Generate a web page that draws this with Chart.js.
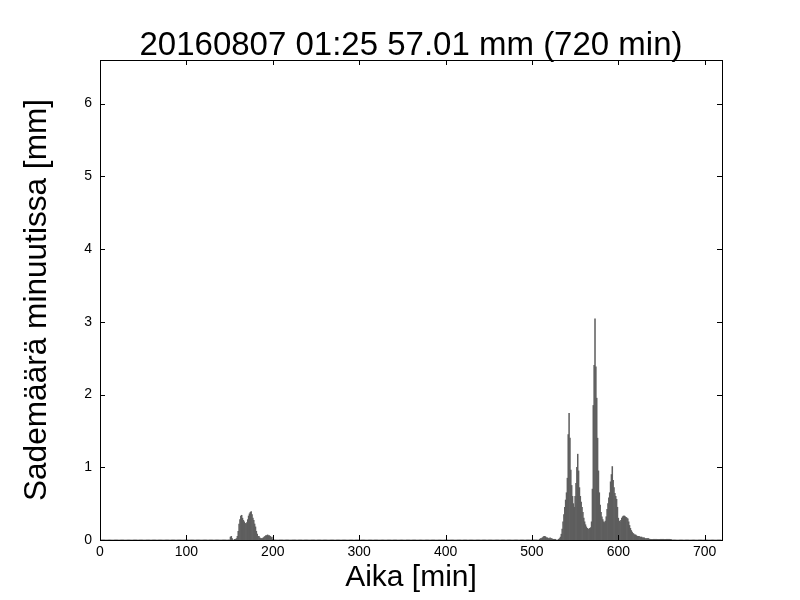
<!DOCTYPE html>
<html>
<head>
<meta charset="utf-8">
<script src="https://cdn.jsdelivr.net/npm/chart.js@4"></script>
<style>
html,body{margin:0;padding:0;background:#fff;}
#wrap{width:800px;height:600px;position:relative;}
</style>
</head>
<body>
<div id="wrap"><canvas id="c" width="800" height="600"></canvas></div>
<script>
// ---- data (mm per minute) ----
const titleText = "20160807 01:25 57.01 mm (720 min)";
const xLabel = "Aika [min]";
const yLabel = "Sademäärä minuutissa [mm]";
const totalMinutes = 720;
const xTicks = [0, 100, 200, 300, 400, 500, 600, 700];
const yTicks = [0, 1, 2, 3, 4, 5, 6];

const rainStartA = 150;
const rainA = [0, 0.04, 0.05, 0.02, 0, 0, 0.01, 0.01, 0.02, 0.05,
  0.12, 0.22, 0.28, 0.33, 0.34, 0.30, 0.27, 0.25, 0.23, 0.22,
  0.24, 0.28, 0.33, 0.36, 0.38, 0.39, 0.35, 0.30, 0.27, 0.22,
  0.18, 0.12, 0.08, 0.05, 0.05, 0.03, 0.02, 0.02, 0.02, 0.03,
  0.04, 0.05, 0.06, 0.06, 0.07, 0.06, 0.06, 0.05, 0.03, 0.04, 0.01];

const rainStartB = 508;
const rainB = [0, 0.01, 0.02, 0.02, 0.03, 0.04, 0.05, 0.05, 0.04, 0.03,
  0.03, 0.02, 0.02, 0.03, 0.02, 0.02, 0.01, 0.01, 0.01, 0.01,
  0, 0, 0, 0.01, 0.02, 0.04, 0.08,
  0.15, 0.25, 0.35, 0.45, 0.55, 0.65, 0.85, 1.45, 1.74, 1.40,
  0.96, 0.75, 0.60, 0.50, 0.45, 0.60, 0.78, 1.00, 1.18, 0.95,
  0.72, 0.60, 0.52, 0.45, 0.38, 0.30, 0.25, 0.21, 0.18, 0.16,
  0.15, 0.15, 0.16, 0.17, 0.25, 0.70, 1.85, 2.40, 3.04, 2.38,
  1.95, 1.40, 0.95, 0.65, 0.48, 0.38, 0.32, 0.28, 0.25, 0.24,
  0.26, 0.32, 0.42, 0.50, 0.58, 0.65, 0.80, 0.90, 1.01, 0.82,
  0.72, 0.64, 0.60, 0.56, 0.45, 0.30, 0.26, 0.25, 0.27, 0.30,
  0.32, 0.33, 0.33, 0.32, 0.31, 0.30, 0.29, 0.25, 0.20, 0.16,
  0.13, 0.11, 0.09, 0.08, 0.07, 0.07, 0.06, 0.05, 0.05, 0.05,
  0.04, 0.04, 0.04, 0.03, 0.03, 0.03, 0.02, 0.02, 0.02, 0.02,
  0.02, 0.01, 0.01, 0.01, 0.01, 0.01, 0.01, 0.01, 0.01, 0.01,
  0.01, 0.01, 0.01, 0.01, 0.01, 0.01, 0.01, 0.01, 0.01, 0.01,
  0.01, 0.01, 0.01, 0.01, 0.01, 0.01, 0.01];

// build the per-minute series from the read segments (dry minutes are 0)
const rain = new Array(totalMinutes).fill(0);
rainA.forEach((v, i) => { rain[rainStartA + i] = v; });
rainB.forEach((v, i) => { rain[rainStartB + i] = v; });
const points = rain.map((v, i) => ({ x: i, y: v }));

const FONT = "'Liberation Sans', Arial, sans-serif";
Chart.defaults.color = '#000';
Chart.defaults.font.family = FONT;

const frameTicks = {
  id: 'frameTicks',
  afterDatasetsDraw(chart) {
    const { ctx, chartArea: a, scales: { x, y } } = chart;
    ctx.save();
    ctx.strokeStyle = '#000';
    ctx.lineWidth = 1;
    const L = 5;
    ctx.beginPath();
    xTicks.forEach(v => {
      const px = Math.round(x.getPixelForValue(v)) + 0.5;
      ctx.moveTo(px, a.bottom); ctx.lineTo(px, a.bottom - L);
      ctx.moveTo(px, a.top); ctx.lineTo(px, a.top + L);
    });
    yTicks.forEach(v => {
      const py = Math.round(y.getPixelForValue(v)) + 0.5;
      ctx.moveTo(a.left, py); ctx.lineTo(a.left + L, py);
      ctx.moveTo(a.right, py); ctx.lineTo(a.right - L, py);
    });
    ctx.stroke();
    ctx.strokeRect(Math.round(a.left) + 0.5, Math.round(a.top) + 0.5,
      Math.round(a.right - a.left), Math.round(a.bottom - a.top));
    // title, centred over the plot area
    ctx.fillStyle = '#000';
    ctx.font = "33px " + FONT;
    ctx.textAlign = 'center';
    ctx.textBaseline = 'alphabetic';
    ctx.fillText(titleText, (a.left + a.right) / 2, 55);
    ctx.restore();
  }
};

new Chart(document.getElementById('c'), {
  type: 'bar',
  data: {
    datasets: [{
      data: points,
      backgroundColor: '#5e5e5e',
      borderWidth: 0,
      barPercentage: 1.0,
      categoryPercentage: 1.0
    }]
  },
  options: {
    responsive: true,
    maintainAspectRatio: false,
    animation: false,
    devicePixelRatio: 1,
    layout: { padding: { left: 0, right: 78, top: 60, bottom: 0 } },
    plugins: {
      legend: { display: false },
      tooltip: { enabled: false },
      title: { display: false }
    },
    scales: {
      x: {
        type: 'linear',
        min: 0,
        max: totalMinutes,
        offset: false,
        grid: { display: false, drawTicks: false },
        border: { display: false },
        afterBuildTicks(s) { s.ticks = xTicks.map(v => ({ value: v })); },
        afterFit(s) { s.height = 60; },
        ticks: { font: { size: 14, family: FONT }, padding: 4, maxRotation: 0, autoSkip: false },
        title: {
          display: true, text: xLabel,
          font: { size: 30, family: FONT, lineHeight: 1.0 },
          padding: { top: 0, bottom: 7 }
        }
      },
      y: {
        type: 'linear',
        min: 0,
        max: 6.6,
        grid: { display: false, drawTicks: false },
        border: { display: false },
        afterBuildTicks(s) { s.ticks = yTicks.map(v => ({ value: v })); },
        afterFit(s) { s.width = 100; },
        ticks: { font: { size: 14, family: FONT }, padding: 8, autoSkip: false },
        title: {
          display: true, text: yLabel,
          font: { size: 31.6, family: FONT, lineHeight: 1.0 },
          padding: { top: 21, bottom: 0 }
        }
      }
    }
  },
  plugins: [frameTicks]
});
</script>
</body>
</html>
